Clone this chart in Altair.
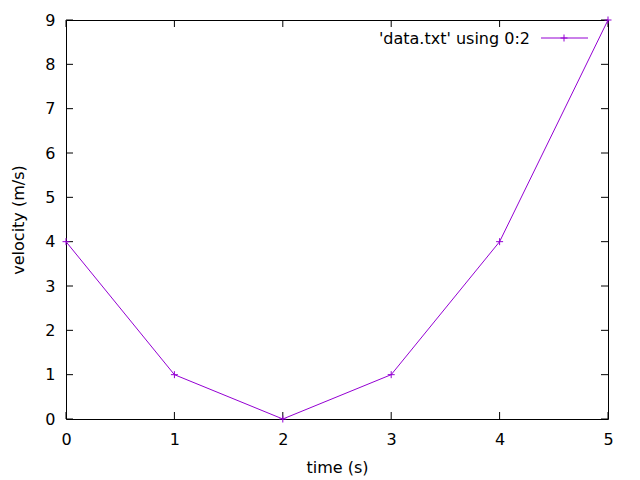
import altair as alt
import pandas as pd

times = [0, 1, 2, 3, 4, 5]
velocities = [4, 1, 0, 1, 4, 9]
x_ticks = [0, 1, 2, 3, 4, 5]
y_ticks = [0, 1, 2, 3, 4, 5, 6, 7, 8, 9]
legend_label = ["'data.txt' using 0:2"]

W, H = 542, 399
PURPLE = "#9400d3"
FONT = "DejaVu Sans"
FS = 16
TICK = 7
PLUS = "M-1,0L1,0M0,-1L0,1"

df = pd.DataFrame({"t": times, "v": velocities})
xt = pd.DataFrame({"t": x_ticks})
yt = pd.DataFrame({"v": y_ticks})
lg = pd.DataFrame({"label": legend_label})

xscale = alt.Scale(domain=[0, 5], nice=False, zero=False)
yscale = alt.Scale(domain=[0, 9], nice=False)

xaxis = alt.Axis(title="time (s)", values=x_ticks, format="d", grid=False, ticks=False,
                 domain=False, labelPadding=12, titlePadding=12, labelFontSize=FS,
                 titleFontSize=FS, titleFontWeight="normal", labelFont=FONT, titleFont=FONT,
                 labelColor="black", titleColor="black", labelFlush=False)
yaxis = alt.Axis(title="velocity (m/s)", values=y_ticks, format="d", grid=False, ticks=False,
                 domain=False, labelPadding=11, titlePadding=18, labelFontSize=FS,
                 titleFontSize=FS, titleFontWeight="normal", labelFont=FONT, titleFont=FONT,
                 labelColor="black", titleColor="black", labelFlush=False)

line = alt.Chart(df).mark_line(color=PURPLE, strokeWidth=1).encode(
    x=alt.X("t:Q", scale=xscale, axis=xaxis),
    y=alt.Y("v:Q", scale=yscale, axis=yaxis),
)
points = alt.Chart(df).mark_point(shape=PLUS, filled=False, color=PURPLE, size=49,
                                  strokeWidth=1, opacity=1).encode(
    x=alt.X("t:Q", scale=xscale),
    y=alt.Y("v:Q", scale=yscale),
)

bottom_ticks = alt.Chart(xt).mark_rule(color="black", strokeWidth=1).encode(
    x=alt.X("t:Q", scale=xscale), y=alt.value(H), y2=alt.value(H - TICK))
top_ticks = alt.Chart(xt).mark_rule(color="black", strokeWidth=1).encode(
    x=alt.X("t:Q", scale=xscale), y=alt.value(0), y2=alt.value(TICK))
left_ticks = alt.Chart(yt).mark_rule(color="black", strokeWidth=1).encode(
    y=alt.Y("v:Q", scale=yscale), x=alt.value(0), x2=alt.value(TICK))
right_ticks = alt.Chart(yt).mark_rule(color="black", strokeWidth=1).encode(
    y=alt.Y("v:Q", scale=yscale), x=alt.value(W), x2=alt.value(W - TICK))

legend_text = alt.Chart(lg).mark_text(align="right", baseline="middle", font=FONT,
                                      fontSize=FS, color="black").encode(
    text="label:N", x=alt.value(464), y=alt.value(19))
legend_line = alt.Chart(lg).mark_rule(color=PURPLE, strokeWidth=1).encode(
    x=alt.value(475), x2=alt.value(522), y=alt.value(18))
legend_pt = alt.Chart(lg).mark_point(shape=PLUS, filled=False, color=PURPLE, size=49,
                                     strokeWidth=1, opacity=1).encode(
    x=alt.value(498), y=alt.value(18))

chart = alt.layer(
    bottom_ticks, top_ticks, left_ticks, right_ticks,
    line, points, legend_text, legend_line, legend_pt,
).properties(
    width=W, height=H,
    autosize=alt.AutoSizeParams(type="none"),
    padding={"left": 58, "top": 12, "right": 20, "bottom": 60},
    background="white",
).configure_view(stroke="black", strokeWidth=1)

chart.save("out.html", embed_options={"renderer": "svg", "actions": False})
